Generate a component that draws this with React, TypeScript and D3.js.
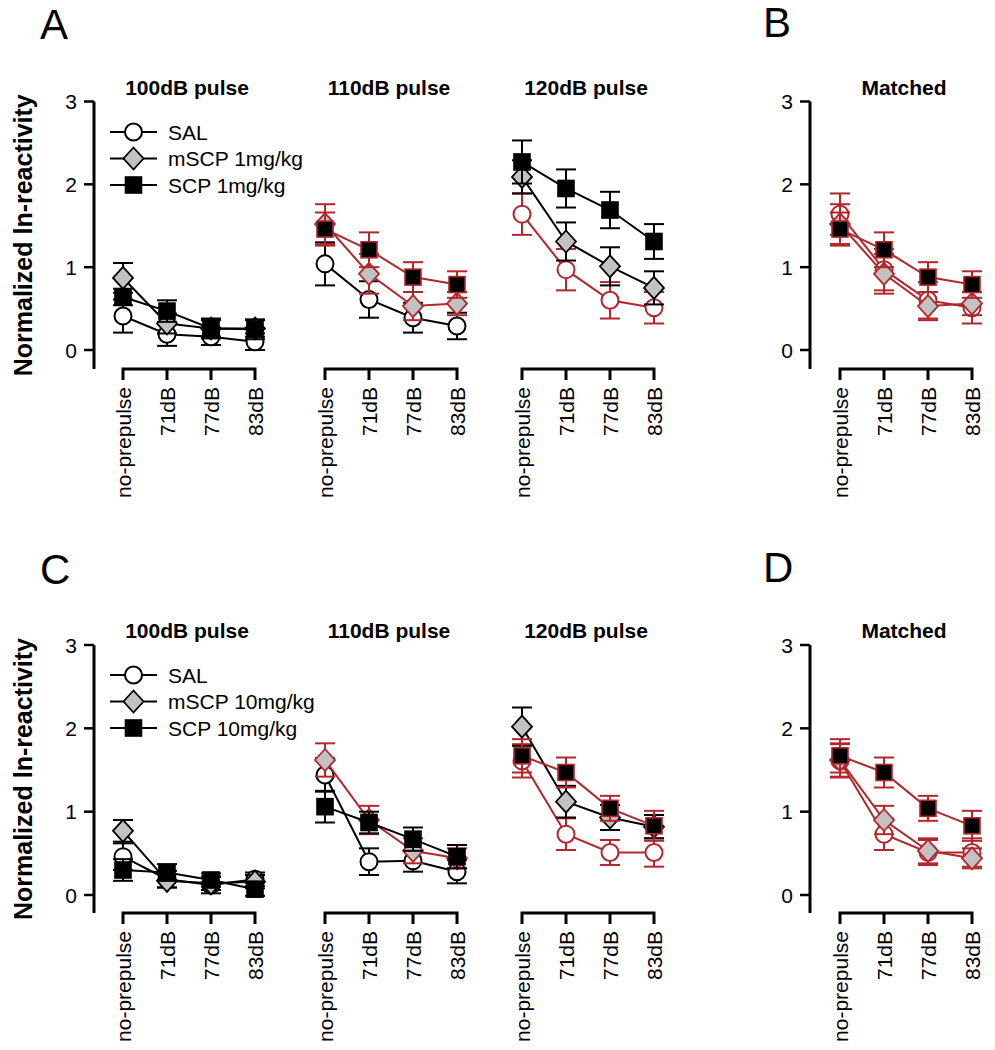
import React from 'react';
import * as d3 from 'd3';

// ---------- data ----------
const prepulseLabels = ['no-prepulse', '71dB', '77dB', '83dB'];
const pulseTitles = ['100dB pulse', '110dB pulse', '120dB pulse'];
const matchedTitle = 'Matched';
const yTickValues = [0, 1, 2, 3];
const groupKeys = ['SAL', 'mSCP', 'SCP'];
const legend1 = ['SAL', 'mSCP 1mg/kg', 'SCP 1mg/kg'];
const legend10 = ['SAL', 'mSCP 10mg/kg', 'SCP 10mg/kg'];
const panelLetters = ['A', 'B', 'C', 'D'];

// 1 mg/kg experiment (rows: 100dB, 110dB, 120dB pulse)
const sal1Mean = [[0.41, 0.19, 0.16, 0.10], [1.04, 0.61, 0.39, 0.29], [1.64, 0.97, 0.60, 0.51]];
const sal1Se = [[0.20, 0.14, 0.10, 0.10], [0.26, 0.22, 0.18, 0.16], [0.25, 0.25, 0.22, 0.19]];
const mscp1Mean = [[0.87, 0.32, 0.26, 0.26], [1.52, 0.92, 0.53, 0.56], [2.09, 1.31, 1.01, 0.75]];
const mscp1Se = [[0.18, 0.12, 0.10, 0.10], [0.24, 0.24, 0.17, 0.14], [0.20, 0.23, 0.23, 0.20]];
const scp1Mean = [[0.64, 0.47, 0.26, 0.25], [1.46, 1.21, 0.88, 0.79], [2.27, 1.95, 1.69, 1.31]];
const scp1Se = [[0.10, 0.13, 0.12, 0.12], [0.20, 0.21, 0.18, 0.16], [0.26, 0.23, 0.22, 0.21]];
const red1 = [[], ['mSCP', 'SCP'], ['SAL']];
const matchedSource1 = [2, 1, 1]; // SAL, mSCP, SCP -> pulse index

// 10 mg/kg experiment
const sal10Mean = [[0.46, 0.19, 0.12, 0.19], [1.44, 0.40, 0.41, 0.28], [1.61, 0.73, 0.51, 0.51]];
const sal10Se = [[0.16, 0.10, 0.10, 0.08], [0.20, 0.16, 0.13, 0.14], [0.20, 0.19, 0.15, 0.17]];
const mscp10Mean = [[0.77, 0.17, 0.14, 0.16], [1.62, 0.90, 0.53, 0.44], [2.02, 1.12, 0.93, 0.82]];
const mscp10Se = [[0.13, 0.08, 0.08, 0.08], [0.20, 0.17, 0.15, 0.12], [0.23, 0.19, 0.15, 0.14]];
const scp10Mean = [[0.30, 0.27, 0.18, 0.07], [1.06, 0.87, 0.67, 0.46], [1.67, 1.47, 1.04, 0.83]];
const scp10Se = [[0.13, 0.10, 0.08, 0.08], [0.19, 0.13, 0.14, 0.14], [0.20, 0.18, 0.15, 0.18]];
const red10 = [[], ['mSCP'], ['SAL', 'SCP']];
const matchedSource10 = [2, 1, 2];

// ---------- style / layout ----------
const FONT = "'Liberation Sans', Arial, Helvetica, sans-serif";
const RED = '#b3262c';
const GREY = '#c2c2c2';
const panelX0 = [123, 325, 522, 840];
const panelW = 132;
const axisX = [94, 810];
const rows = [
  { y0: 350, y3: 101.5, bracket: 369, legendY: 132, letterY: 39 },
  { y0: 895, y3: 645, bracket: 913, legendY: 675, letterY: 584 },
];

type Kind = 'circle' | 'diamond' | 'square';
const kinds: Kind[] = ['circle', 'diamond', 'square'];

function Marker({ kind, cx, cy, color }: { kind: Kind; cx: number; cy: number; color: string }) {
  if (kind === 'circle') {
    return <circle cx={cx} cy={cy} r={8.5} fill="#fff" stroke={color} strokeWidth={2} />;
  }
  if (kind === 'diamond') {
    const p = d3.path();
    p.moveTo(cx, cy - 11);
    p.lineTo(cx + 10, cy);
    p.lineTo(cx, cy + 11);
    p.lineTo(cx - 10, cy);
    p.closePath();
    return <path d={p.toString()} fill={GREY} stroke={color} strokeWidth={1.8} />;
  }
  return <rect x={cx - 8} y={cy - 8} width={16} height={16} fill="#000" stroke={color} strokeWidth={1.6} />;
}

function Series({ x, y, mean, se, kind, color }: any) {
  const line = d3
    .line<number>()
    .x((_, i) => x(prepulseLabels[i]))
    .y((d) => y(d));
  return (
    <g>
      <path d={line(mean) || ''} fill="none" stroke={color} strokeWidth={2} />
      {mean.map((m: number, i: number) => {
        const cx = x(prepulseLabels[i]);
        const t = y(m + se[i]);
        const b = y(m - se[i]);
        return (
          <g key={i} stroke={color} strokeWidth={2}>
            <line x1={cx} x2={cx} y1={t} y2={b} />
            <line x1={cx - 10} x2={cx + 10} y1={t} y2={t} />
            <line x1={cx - 10} x2={cx + 10} y1={b} y2={b} />
          </g>
        );
      })}
      {mean.map((m: number, i: number) => (
        <Marker key={'m' + i} kind={kind} cx={x(prepulseLabels[i])} cy={y(m)} color={color} />
      ))}
    </g>
  );
}

function XAxis({ x, bracket }: any) {
  const xs = prepulseLabels.map((l) => x(l));
  return (
    <g>
      <path
        d={`M${xs[0]},${bracket + 11}V${bracket}H${xs[3]}V${bracket + 11}`}
        fill="none"
        stroke="#000"
        strokeWidth={3}
      />
      {xs.slice(1, 3).map((cx: number, i: number) => (
        <line key={i} x1={cx} x2={cx} y1={bracket} y2={bracket + 11} stroke="#000" strokeWidth={3} />
      ))}
      {prepulseLabels.map((l, i) => (
        <text
          key={l}
          transform={`translate(${xs[i]},${bracket + 18}) rotate(-90)`}
          textAnchor="end"
          dominantBaseline="central"
          fontSize={21}
          fontFamily={FONT}
        >
          {l}
        </text>
      ))}
    </g>
  );
}

function YAxis({ ax, y, bracket }: any) {
  return (
    <g>
      <line x1={ax} x2={ax} y1={y(3)} y2={bracket} stroke="#000" strokeWidth={3} />
      {yTickValues.map((v) => (
        <g key={v}>
          <line x1={ax - 10} x2={ax} y1={y(v)} y2={y(v)} stroke="#000" strokeWidth={2.5} />
          <text x={ax - 17} y={y(v)} textAnchor="end" dominantBaseline="central" fontSize={21} fontFamily={FONT}>
            {v}
          </text>
        </g>
      ))}
    </g>
  );
}

function Row({ row, means, ses, reds, matchedSrc, legend, letters }: any) {
  const y = d3.scaleLinear().domain([0, 3]).range([row.y0, row.y3]);
  const panels = [0, 1, 2, 3];
  return (
    <g>
      <text x={40} y={row.letterY} fontSize={42} fontFamily={FONT}>{letters[0]}</text>
      <text x={763} y={row.letterY - 2} fontSize={42} fontFamily={FONT}>{letters[1]}</text>
      <text
        transform={`translate(32,${(row.y3 + row.bracket) / 2}) rotate(-90)`}
        textAnchor="middle"
        fontSize={25}
        fontWeight="bold"
        fontFamily={FONT}
      >
        Normalized ln-reactivity
      </text>
      <YAxis ax={axisX[0]} y={y} bracket={row.bracket} />
      <YAxis ax={axisX[1]} y={y} bracket={row.bracket} />
      {panels.map((p) => {
        const x = d3.scalePoint<string>().domain(prepulseLabels).range([panelX0[p], panelX0[p] + panelW]);
        const title = p < 3 ? pulseTitles[p] : matchedTitle;
        return (
          <g key={p}>
            <text
              x={panelX0[p] + panelW / 2 - 2}
              y={row.y3 - 7}
              textAnchor="middle"
              fontSize={21}
              fontWeight="bold"
              fontFamily={FONT}
            >
              {title}
            </text>
            <XAxis x={x} bracket={row.bracket} />
            {groupKeys.map((g, gi) => {
              const src = p < 3 ? p : matchedSrc[gi];
              const isRed = p === 3 || reds[p].includes(g);
              return (
                <Series
                  key={g}
                  x={x}
                  y={y}
                  mean={means[gi][src]}
                  se={ses[gi][src]}
                  kind={kinds[gi]}
                  color={isRed ? RED : '#000'}
                />
              );
            })}
          </g>
        );
      })}
      {legend.map((label: string, i: number) => {
        const ly = row.legendY + i * 26.5;
        return (
          <g key={label}>
            <line x1={110} x2={157} y1={ly} y2={ly} stroke="#000" strokeWidth={2} />
            <Marker kind={kinds[i]} cx={133.5} cy={ly} color="#000" />
            <text x={168} y={ly} dominantBaseline="central" fontSize={21} fontFamily={FONT}>
              {label}
            </text>
          </g>
        );
      })}
    </g>
  );
}

export default function App() {
  return (
    <svg
      width={995}
      height={1050}
      viewBox="0 0 995 1050"
      style={{ position: 'absolute', left: 0, top: 0, background: '#fff' }}
    >
      <rect x={0} y={0} width={995} height={1050} fill="#fff" />
      <Row
        row={rows[0]}
        means={[sal1Mean, mscp1Mean, scp1Mean]}
        ses={[sal1Se, mscp1Se, scp1Se]}
        reds={red1}
        matchedSrc={matchedSource1}
        legend={legend1}
        letters={[panelLetters[0], panelLetters[1]]}
      />
      <Row
        row={rows[1]}
        means={[sal10Mean, mscp10Mean, scp10Mean]}
        ses={[sal10Se, mscp10Se, scp10Se]}
        reds={red10}
        matchedSrc={matchedSource10}
        legend={legend10}
        letters={[panelLetters[2], panelLetters[3]]}
      />
    </svg>
  );
}
